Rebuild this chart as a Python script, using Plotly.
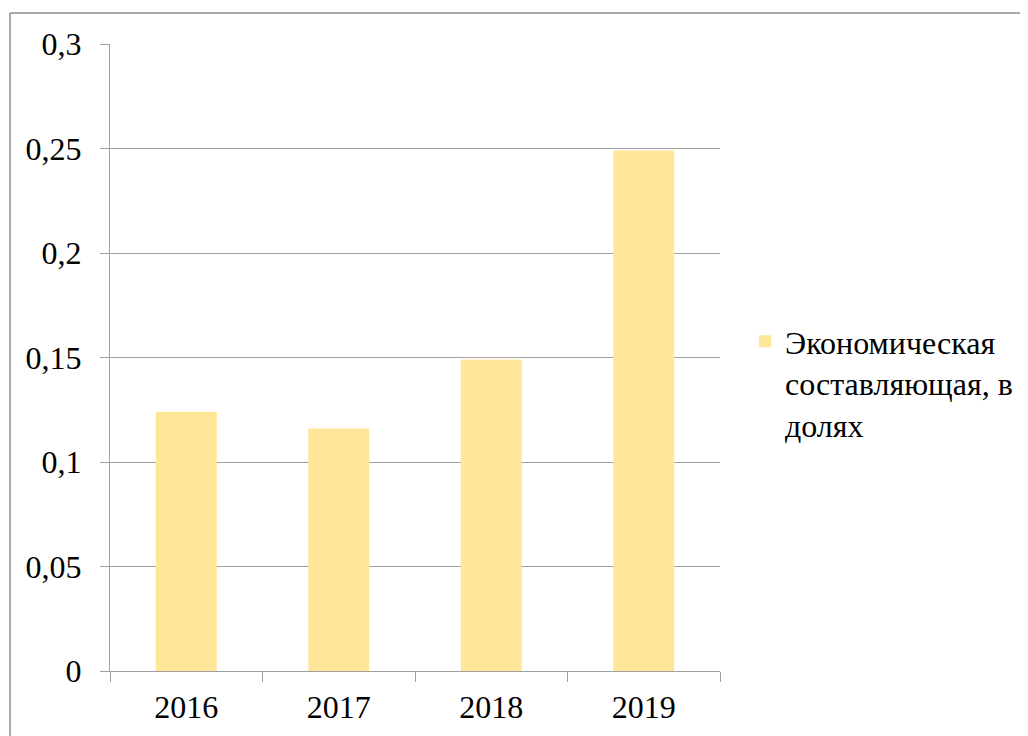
import plotly.graph_objects as go

categories = ["2016", "2017", "2018", "2019"]
values = [0.124, 0.116, 0.149, 0.249]
series_name = "Экономическая<br>составляющая, в<br>долях"
y_tickvals = [0, 0.05, 0.1, 0.15, 0.2, 0.25, 0.3]
y_ticktext = ["0", "0,05", "0,1", "0,15", "0,2", "0,25", "0,3"]

FONT = "Liberation Serif"
FS = 32
GRID = "#A0A0A0"

OFF = 8  # page body margin offset
L, R, T, B = 110 - OFF, 720 - OFF, 44 - OFF, 671 - OFF
W, H = 1028, 736
pw, ph = R - L, B - T

fig = go.Figure()
fig.add_trace(go.Bar(
    x=categories, y=values, name=series_name,
    marker=dict(color="#FFE699", line=dict(width=0)),
    showlegend=True,
))

fig.update_layout(
    width=W, height=H,
    margin=dict(l=L, r=W - R, t=T, b=H - B, pad=0),
    paper_bgcolor="white", plot_bgcolor="white",
    font=dict(family=FONT, size=FS, color="black"),
    bargap=0.6,
    separators=", ",
    legend=dict(
        x=(745 - OFF - L) / pw, xanchor="left",
        y=(B - (314 - OFF)) / ph, yanchor="top",
        valign="top",
        font=dict(family=FONT, size=FS, color="black"),
        bgcolor="rgba(0,0,0,0)",
        itemwidth=30,
    ),
    xaxis=dict(
        type="category",
        showline=True, linecolor=GRID, linewidth=1.3,
        ticks="outside", ticklen=10, tickcolor=GRID, tickwidth=1.3,
        tickson="boundaries",
        showgrid=False,
        tickfont=dict(family=FONT, size=FS, color="black"),
        ticklabelstandoff=7,
    ),
    yaxis=dict(
        range=[0, 0.3],
        tickvals=y_tickvals, ticktext=y_ticktext,
        showline=True, linecolor=GRID, linewidth=1.3,
        ticks="outside", ticklen=9, tickcolor=GRID, tickwidth=1.3,
        showgrid=True, gridcolor=GRID, gridwidth=1.3,
        zeroline=False,
        tickfont=dict(family=FONT, size=FS, color="black"),
        ticklabelstandoff=12,
    ),
)

# outer chart frame (top and left edges visible)
fy = (B - (13 - OFF)) / ph
fx = (10 - OFF - L) / pw
fig.add_shape(type="line", xref="paper", yref="paper",
              x0=fx, x1=(W + 20 - L) / pw, y0=fy, y1=fy,
              line=dict(color="#8C8C8C", width=1.5))
fig.add_shape(type="line", xref="paper", yref="paper",
              x0=fx, x1=fx, y0=fy, y1=(B - H - 20) / ph,
              line=dict(color="#8C8C8C", width=1.5))

fig.write_html("out.html")
